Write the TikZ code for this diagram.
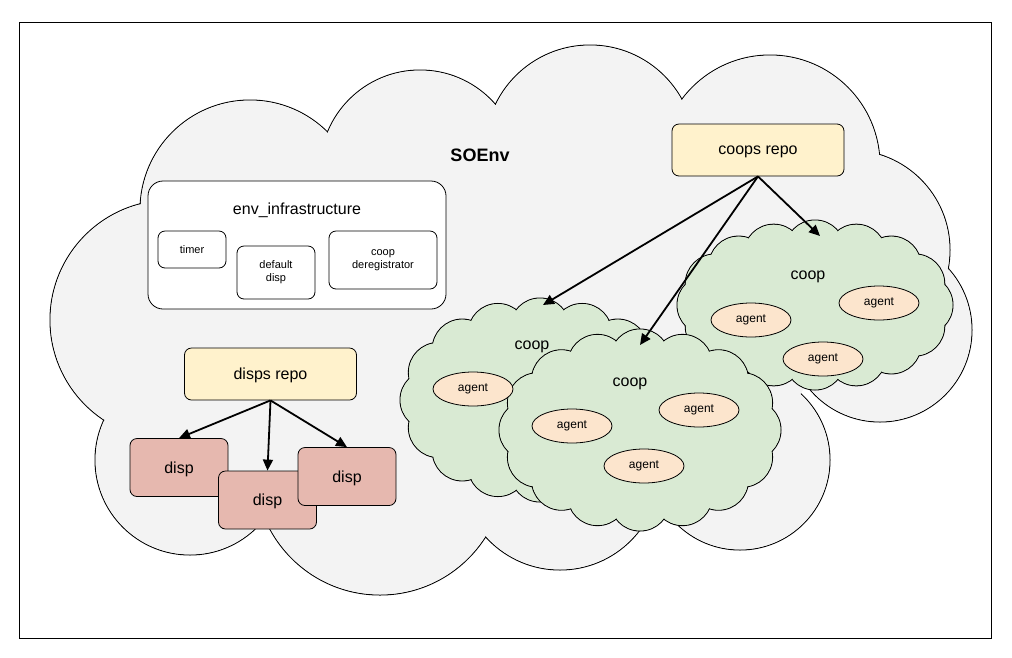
\documentclass[tikz,border=0pt]{standalone}
\usepackage{fontspec}
\setmainfont{Liberation Sans}
\usetikzlibrary{arrows.meta,shapes.geometric}
\definecolor{cloudg}{HTML}{F3F3F3}
\definecolor{greenc}{HTML}{D9EAD3}
\definecolor{yel}{HTML}{FFF2CC}
\definecolor{dispc}{HTML}{E6B8AF}
\definecolor{agentc}{HTML}{FCE5CD}
\newcommand{\greencloud}[4]{%
  \foreach \t in {0,22.5,...,359}{\draw[line width=1pt,fill=greenc] ({#1+#3*cos(\t)},{#2+#4*sin(\t)}) circle (30);}
  \foreach \t in {0,22.5,...,359}{\fill[greenc] ({#1+#3*cos(\t)},{#2+#4*sin(\t)}) circle (29.4);}
  \fill[greenc] (#1,#2) ellipse ({#3} and {#4});}
\begin{document}
\begin{tikzpicture}[x=1pt,y=-1pt,
  box/.style={draw,line width=0.8pt,rounded corners=7pt,align=center,inner sep=0pt},
  repo/.style={box,fill=yel,minimum width=172pt,minimum height=52pt,font=\fontsize{16}{18}\selectfont,text depth=0pt},
  disp/.style={box,fill=dispc,minimum width=98pt,minimum height=58pt,font=\fontsize{16}{18}\selectfont,text depth=0pt},
  small/.style={box,fill=white,font=\fontsize{11}{13}\selectfont},
  agent/.style={draw,line width=0.8pt,fill=agentc,ellipse,minimum width=80pt,minimum height=34pt,inner sep=0pt,font=\fontsize{12}{14}\selectfont},
  arr/.style={-{Triangle[length=11pt,width=10pt]},line width=1.8pt},
  lab/.style={font=\fontsize{16}{18}\selectfont}]
\useasboundingbox (0,0) rectangle (1012,657);
\draw[line width=0.8pt] (19,22) rectangle (991,638);
% big cloud
\draw[line width=1pt,fill=cloudg] (250,210) circle (110) (420,170) circle (100) (590,150) circle (105) (770,165) circle (110)
 (880,330) circle (92) (850,250) circle (100) (740,460) circle (90) (380,470) circle (125) (170,320) circle (120)
 (190,460) circle (95) (560,470) circle (100);
\fill[cloudg] (250,210) circle (109.4) (420,170) circle (99.4) (590,150) circle (104.4) (770,165) circle (109.4)
 (880,330) circle (91.4) (850,250) circle (99.4) (740,460) circle (89.4) (380,470) circle (124.4) (170,320) circle (119.4)
 (190,460) circle (94.4) (560,470) circle (99.4) (520,330) ellipse (300 and 180);
\node[font=\fontsize{18}{20}\selectfont\bfseries] (soenv) at (480,155) {SOEnv};
% env infrastructure
\node[box,fill=white,rounded corners=15pt,minimum width=298pt,minimum height=128pt] (env) at (297,245) {};
\node[font=\fontsize{16}{18}\selectfont] (envl) at (297,210) {env\_infrastructure};
\node[small,minimum width=68pt,minimum height=37pt] (timer) at (192,249.5) {timer};
\node[small,minimum width=78pt,minimum height=53pt] (dd) at (276,272.5) {default\\disp};
\node[small,minimum width=108pt,minimum height=58pt] (cd) at (383,260) {coop\\deregistrator};
% green clouds
\greencloud{815}{305}{108}{55}
\greencloud{540}{400}{110}{72}
\greencloud{640}{430}{111}{71}
\node[lab] (c1) at (532,347) {coop};
\node[lab] (c2) at (630,384) {coop};
\node[lab] (c3) at (808,277) {coop};
\node[agent] (a1) at (473,389) {agent};
\node[agent] (a2) at (572,426) {agent};
\node[agent] (a3) at (699,410) {agent};
\node[agent] (a4) at (644,466) {agent};
\node[agent] (a5) at (751,320) {agent};
\node[agent] (a6) at (879,303) {agent};
\node[agent] (a7) at (823,359) {agent};
% repos
\node[repo] (coops) at (758,150) {coops repo};
\node[repo] (disps) at (270.5,374) {disps repo};
\node[disp] (d1) at (179,467.5) {disp};
\node[disp] (d2) at (267.5,500) {disp};
\node[disp] (d3) at (347,476.5) {disp};
\coordinate (t1) at (543,305);
\coordinate (t2) at (640,345);
\coordinate (t3) at (820,236);
\draw[arr] (coops.south) -- (t1);
\draw[arr] (coops.south) -- (t2);
\draw[arr] (coops.south) -- (t3);
\draw[arr] (disps.south) -- (d1.north);
\draw[arr] (disps.south) -- (d2.north);
\draw[arr] (disps.south) -- (d3.north);
\end{tikzpicture}
\end{document}
